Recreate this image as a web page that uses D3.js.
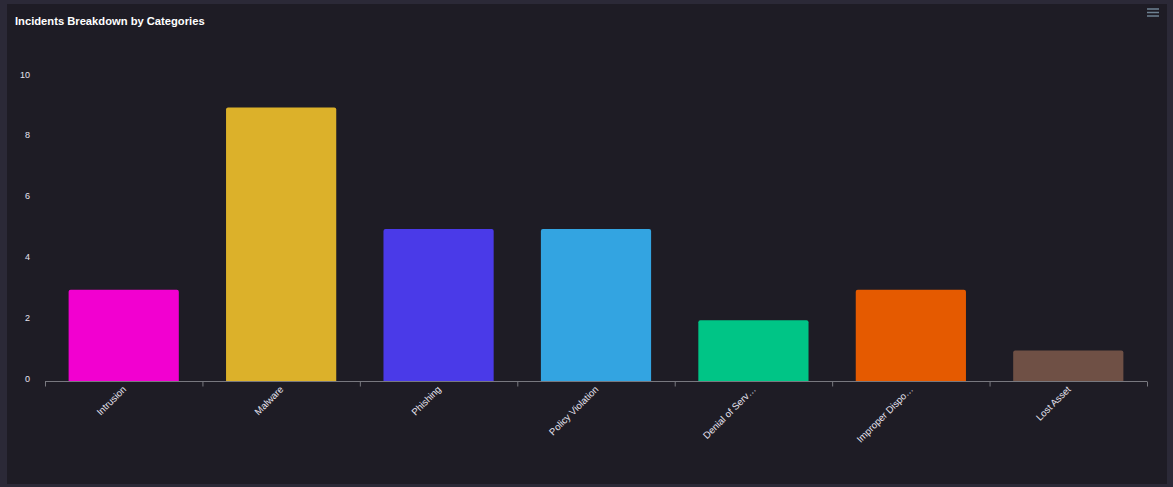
<!DOCTYPE html>
<html><head><meta charset="utf-8">
<script src="https://cdn.jsdelivr.net/npm/d3@7/dist/d3.min.js"></script>
<style>
html,body{margin:0;padding:0;background:#2b2937;}
svg{display:block;}
</style></head>
<body>
<svg id="chart" width="1173" height="487"></svg>
<script>
const categories = ["Intrusion","Malware","Phishing","Policy Violation","Denial of Serv…","Improper Dispo…","Lost Asset"];
const values = [3, 9, 5, 5, 2, 3, 1];
const colors = ["#f200d0","#dcb12a","#4a3ae8","#33a4e1","#00c586","#e55a00","#6f5045"];
const yTicks = [0, 2, 4, 6, 8, 10];
const title = "Incidents Breakdown by Categories";

const svg = d3.select("#chart");
svg.append("rect").attr("x",7).attr("y",4).attr("width",1160).attr("height",480).attr("fill","#1e1c25");

svg.append("text").attr("x",15).attr("y",24.5).text(title)
  .attr("fill","#ffffff").attr("font-family","Liberation Sans, Arial, sans-serif")
  .attr("font-size",11.2).attr("font-weight","bold");

// menu icon
[9,12.5,16].forEach(y=>svg.append("rect").attr("x",1147).attr("y",y-0.75).attr("width",12).attr("height",1.5).attr("fill","#6e8192"));

const x = d3.scaleBand().domain(categories).range([45,1147]).padding(0);
const y = d3.scaleLinear().domain([0,10]).range([381,77]);

// y labels
svg.append("g").selectAll("text").data(yTicks).join("text")
  .attr("x",30).attr("y",d=>y(d)+0.5)
  .attr("text-anchor","end").attr("fill","#e6e3f0")
  .attr("font-family","Liberation Sans, Arial, sans-serif").attr("font-size",9)
  .text(d=>d);

// bars
const bw = x.bandwidth()*0.7;
const r = 2;
svg.append("g").selectAll("path").data(categories).join("path")
  .attr("d",(c,i)=>{
    const x0 = x(c)+(x.bandwidth()-bw)/2, x1 = x0+bw, y0 = y(0), y1 = y(values[i]);
    return `M${x0},${y0}V${y1+r}Q${x0},${y1} ${x0+r},${y1}H${x1-r}Q${x1},${y1} ${x1},${y1+r}V${y0}Z`;
  })
  .attr("fill",(c,i)=>colors[i]);

// x axis
const xAxis = svg.append("g").attr("transform","translate(0,381.5)");
xAxis.append("line").attr("x1",45).attr("x2",1147).attr("stroke","#78787f").attr("stroke-width",1);
const tickPos = categories.map(c=>x(c)).concat([x.range()[1]]);
xAxis.selectAll("line.t").data(tickPos).join("line").attr("class","t")
  .attr("x1",d=>d+0.5).attr("x2",d=>d+0.5).attr("y1",0).attr("y2",5)
  .attr("stroke","#78787f").attr("stroke-width",1);

svg.append("g").selectAll("text").data(categories).join("text")
  .attr("transform",c=>`translate(${x(c)+x.bandwidth()/2+3},${390}) rotate(-45)`)
  .attr("text-anchor","end").attr("fill","#e6e3f0")
  .attr("font-family","Liberation Sans, Arial, sans-serif").attr("font-size",9.6)
  .text(c=>c);
</script>
</body></html>
